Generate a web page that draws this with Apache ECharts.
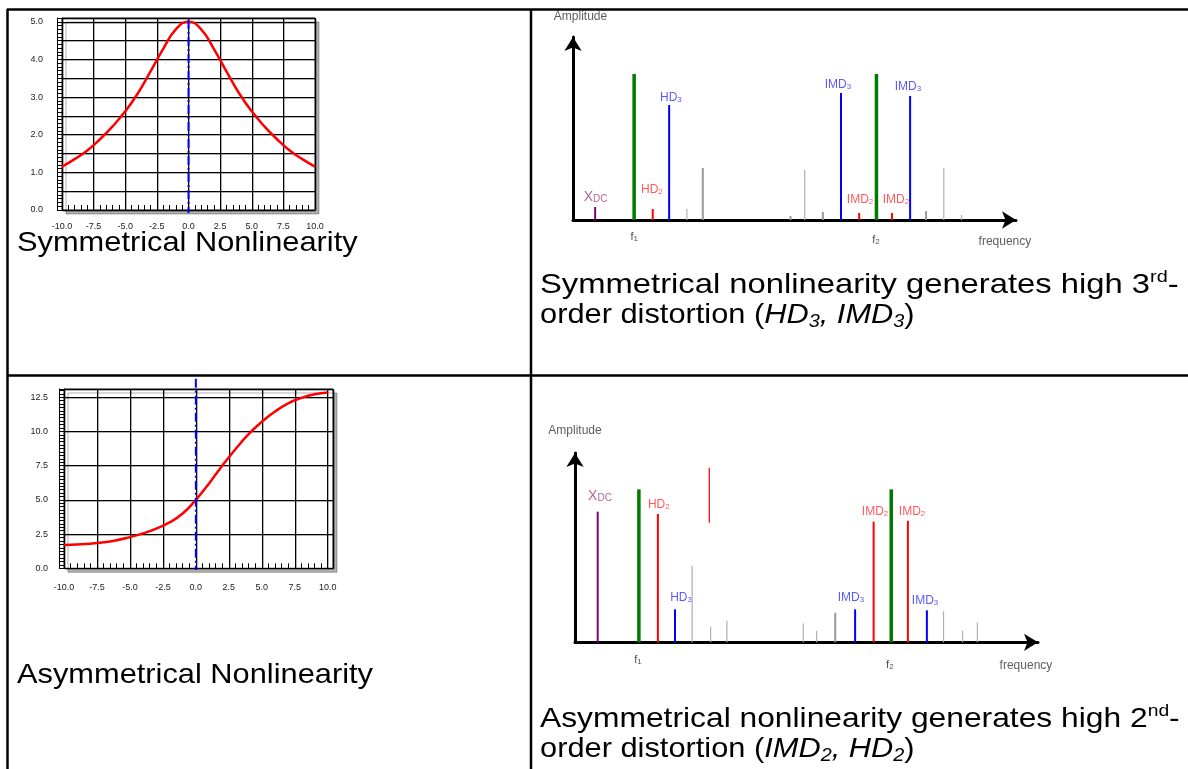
<!DOCTYPE html>
<html>
<head>
<meta charset="utf-8">
<script src="https://cdn.jsdelivr.net/npm/echarts@6/dist/echarts.min.js"></script>
<style>
  html, body { margin: 0; padding: 0; background: #fff; }
  #chart { width: 1188px; height: 769px; }
</style>
</head>
<body>
<div id="chart"></div>
<script>
// transfer curves
var xVals = [-10, -9, -8, -7, -6, -5, -4, -3, -2, -1, 0, 1, 2, 3, 4, 5, 6, 7, 8, 9, 10];
var symVals = [1.15, 1.35, 1.58, 1.88, 2.22, 2.62, 3.1, 3.68, 4.28, 4.8, 5.0, 4.8, 4.28, 3.68, 3.1, 2.62, 2.22, 1.88, 1.58, 1.35, 1.15];
var asymVals = [1.7, 1.74, 1.8, 1.9, 2.05, 2.28, 2.55, 2.9, 3.35, 4.0, 5.0, 6.2, 7.5, 8.7, 9.8, 10.7, 11.45, 12.05, 12.45, 12.72, 12.85];
// dashed x = 0 reference line, extent in data units
var symZeroSpan = [5.05, -0.08];
var asymZeroSpan = [13.84, -0.12];

// spectrum, symmetrical case (frequency 0..100, amplitude 0..100)
var topFreq = [5.0, 13.8, 18.0, 21.7, 25.7, 29.3, 49.1, 52.3, 56.4, 60.5, 64.6, 68.5, 72.0, 76.1, 79.7, 83.7, 87.7];
var topAmp  = [7.1, 79.8, 6.0, 62.8, 6.0, 28.4, 2.2, 27.3, 4.4, 69.4, 3.8, 79.8, 3.8, 67.8, 4.9, 28.4, 2.7];
var topKind = ['dc', 'fund', 'hd2', 'hd3', 'spurThin', 'spur', 'spur', 'spurThin', 'spur', 'hd3', 'hd2', 'fund', 'hd2', 'hd3', 'spur', 'spurThin', 'spurThin'];

// spectrum, asymmetrical case
var botFreq  = [4.9, 13.8, 17.9, 21.6, 25.3, 29.0, 29.3, 32.8, 49.3, 52.2, 56.2, 60.5, 64.5, 68.3, 71.9, 76.0, 79.6, 83.7, 86.9];
var botFloor = [0, 0, 0, 0, 0, 63.2, 0, 0, 0, 0, 0, 0, 0, 0, 0, 0, 0, 0, 0];
var botAmp   = [69, 80.8, 67.8, 17.4, 40.5, 92.2, 8.2, 11.4, 10, 6.1, 15.6, 17.4, 63.7, 80.8, 64.2, 16.9, 16.4, 6.1, 10.4];
var botKind  = ['dc', 'fund', 'hd2', 'hd3', 'spurThin', 'stray', 'spurThin', 'spurThin', 'spurThin', 'spurThin', 'spur', 'hd3', 'hd2', 'fund', 'hd2', 'hd3', 'spurThin', 'spurThin', 'spurThin'];

// annotations
var topLabelText = ['Amplitude', 'frequency', 'f{s|1}', 'f{s|2}', 'X{dc|DC}', 'HD{s|2}', 'HD{s|3}', 'IMD{s|3}', 'IMD{s|2}', 'IMD{s|2}', 'IMD{s|3}'];
var topLabelFreq = [1.7, 97.5, 13.8, 68.4, 5.1, 17.8, 22.1, 59.8, 64.8, 72.9, 75.6];
var topLabelAmp  = [110.9, -12.0, -9.3, -10.9, 12.6, 16.4, 66.7, 73.8, 10.9, 10.9, 72.7];
var topLabelKind = ['axis', 'axis', 'f', 'f', 'dc', 'hd2', 'hd3', 'hd3', 'hd2', 'hd2', 'hd3'];

var botLabelText = ['Amplitude', 'frequency', 'f{s|1}', 'f{s|2}', 'X{dc|DC}', 'HD{s|2}', 'HD{s|3}', 'IMD{s|3}', 'IMD{s|2}', 'IMD{s|2}', 'IMD{s|3}'];
var botLabelFreq = [0, 97.4, 13.6, 68.0, 5.4, 18.1, 22.9, 59.6, 64.8, 72.8, 75.6];
var botLabelAmp  = [111.8, -12.5, -9.3, -11.9, 77.3, 72.5, 23.4, 23.4, 68.8, 68.8, 21.8];
var botLabelKind = ['axis', 'axis', 'f', 'f', 'dc', 'hd2', 'hd3', 'hd3', 'hd2', 'hd2', 'hd3'];

var FONT = "'Liberation Sans', Arial, sans-serif";

var spikeStyle = {
  dc: { color: '#800080', width: 2 },
  fund: { color: '#007a00', width: 3.5 },
  hd2: { color: '#ff0000', width: 2 },
  hd3: { color: '#0000ff', width: 2 },
  spur: { color: '#999999', width: 2 },
  spurThin: { color: '#b0b0b0', width: 1.2 },
  stray: { color: '#e00000', width: 1.2 }
};
var labelStyle = {
  axis: { color: '#333', size: 12 },
  f: { color: '#222', size: 11 },
  dc: { color: '#a03c78', size: 14 },
  hd2: { color: '#ff3030', size: 12 },
  hd3: { color: '#3030ff', size: 12 }
};

var chart = echarts.init(document.getElementById('chart'));

function spikeSeries(idx, freq, floor, amp, kind) {
  return {
    type: 'custom', xAxisIndex: idx, yAxisIndex: idx, clip: false, silent: true, z: 5,
    data: freq.map(function (f, i) { return [f, floor ? floor[i] : 0, amp[i]]; }),
    renderItem: function (params, api) {
      var st = spikeStyle[kind[params.dataIndex]];
      var p0 = api.coord([api.value(0), api.value(1)]);
      var p1 = api.coord([api.value(0), api.value(2)]);
      return {
        type: 'line',
        shape: { x1: p0[0], y1: p0[1], x2: p1[0], y2: p1[1] },
        style: { stroke: st.color, lineWidth: st.width }
      };
    }
  };
}

function labelSeries(idx, freq, amp, text, kind) {
  return {
    type: 'scatter', xAxisIndex: idx, yAxisIndex: idx, clip: false, silent: true,
    symbolSize: 1, itemStyle: { color: 'transparent' },
    data: freq.map(function (f, i) {
      var st = labelStyle[kind[i]];
      return { value: [f, amp[i]], label: { color: st.color, fontSize: st.size } };
    }),
    label: {
      show: true, position: 'inside', fontFamily: FONT,
      formatter: function (p) { return text[p.dataIndex]; },
      rich: {
        s: { fontSize: 8, fontFamily: FONT, verticalAlign: 'bottom' },
        dc: { fontSize: 10, fontFamily: FONT, verticalAlign: 'bottom' }
      }
    }
  };
}

function curveSeries(idx, vals) {
  return {
    type: 'line', xAxisIndex: idx, yAxisIndex: idx, smooth: true, symbol: 'none', clip: false, z: 3,
    data: xVals.map(function (x, i) { return [x, vals[i]]; }),
    lineStyle: { color: '#ff0000', width: 2.5 }
  };
}
function zeroSeries(idx, span) {
  return {
    type: 'line', xAxisIndex: idx, yAxisIndex: idx, symbol: 'none', clip: false, silent: true, z: 4,
    data: [[0, span[0]], [0, span[1]]],
    lineStyle: { color: '#0000ff', width: 2, type: [9, 3, 2, 3] }
  };
}

function isStep(v, step, lo, hi) {
  var k = v / step;
  return Math.abs(k - Math.round(k)) < 1e-6 && v >= lo - 1e-6 && v <= hi + 1e-6;
}

var gridLine = { color: '#000', width: 1, shadowColor: 'rgba(0,0,0,0.3)', shadowOffsetX: 1, shadowOffsetY: 1 };
var frame = {
  show: true, borderColor: '#000', borderWidth: 1, backgroundColor: '#fff',
  shadowColor: 'rgba(0,0,0,0.3)', shadowOffsetX: 4, shadowOffsetY: 4, shadowBlur: 0
};

function mainX(grid, max, margin) {
  return {
    gridIndex: grid, type: 'value', position: 'bottom', min: -10, max: max, interval: 2.5,
    axisLine: { show: true, onZero: false, lineStyle: { color: '#000', width: 1 } },
    axisTick: { show: false },
    axisLabel: {
      color: '#222', fontSize: 9, margin: margin, fontFamily: FONT,
      formatter: function (v) { return isStep(v, 2.5, -10, 10) ? v.toFixed(1) : ''; }
    },
    splitLine: { show: true, lineStyle: gridLine }
  };
}
function tickX(grid, max) {
  return {
    gridIndex: grid, type: 'value', position: 'bottom', min: -10, max: max, interval: 0.5,
    axisLine: { show: false, onZero: false },
    axisTick: { show: true, inside: true, length: 5, lineStyle: { color: '#000' } },
    axisLabel: { show: false }, splitLine: { show: false }
  };
}
function mainY(grid, max, interval, step, top, margin) {
  return {
    gridIndex: grid, type: 'value', position: 'left', min: 0, max: max, interval: interval,
    axisLine: { show: true, onZero: false, lineStyle: { color: '#000', width: 1 } },
    axisTick: { show: false },
    axisLabel: {
      color: '#222', fontSize: 9, margin: margin, fontFamily: FONT,
      formatter: function (v) { return isStep(v, step, 0, top) ? v.toFixed(1) : ''; }
    },
    splitLine: { show: true, lineStyle: gridLine }
  };
}
function ladderY(grid, max, interval) {
  return {
    gridIndex: grid, type: 'value', position: 'left', offset: 5, min: 0, max: max, interval: interval,
    axisLine: { show: true, onZero: false, lineStyle: { color: '#000', width: 1 } },
    axisTick: { show: true, inside: true, length: 5, lineStyle: { color: '#000' } },
    axisLabel: { show: false }, splitLine: { show: false }
  };
}
function arrowAxis(grid) {
  return {
    gridIndex: grid, type: 'value', min: 0, max: 100,
    axisLine: { show: true, onZero: false, symbol: ['none', 'arrow'], symbolSize: [13, 14], lineStyle: { color: '#000', width: 3 } },
    axisTick: { show: false }, axisLabel: { show: false }, splitLine: { show: false }
  };
}

// line 1 of the right-hand captions is justified to the cell width in the original
function bigText(x, y, text, stretch) {
  return {
    type: 'text', x: x, y: y, scaleX: stretch, silent: true,
    style: {
      text: text, fontSize: 28, fontFamily: FONT, fill: '#000', verticalAlign: 'middle', lineHeight: 32,
      rich: {
        sup: { fontSize: 17, fontFamily: FONT, verticalAlign: 'top', lineHeight: 32 },
        i: { fontSize: 28, fontFamily: FONT, fontStyle: 'italic', lineHeight: 32 },
        is: { fontSize: 18, fontFamily: FONT, fontStyle: 'italic', verticalAlign: 'bottom', lineHeight: 22 }
      }
    }
  };
}
function rule(x1, y1, x2, y2) {
  return { type: 'line', silent: true, shape: { x1: x1, y1: y1, x2: x2, y2: y2 }, style: { stroke: '#000', lineWidth: 2.5 } };
}

chart.setOption({
  animation: false,
  textStyle: { fontFamily: FONT },
  grid: [
    Object.assign({ left: 62, top: 18, width: 253, height: 192 }, frame),
    Object.assign({ left: 64, top: 389, width: 269, height: 179.3 }, frame),
    { left: 573, top: 37, width: 443, height: 183 },
    { left: 575, top: 453, width: 463, height: 189.3 }
  ],
  xAxis: [
    mainX(0, 10, 12), tickX(0, 10),
    mainX(1, 10.4, 15), tickX(1, 10.4),
    arrowAxis(2), arrowAxis(3)
  ],
  yAxis: [
    mainY(0, 5.1, 0.5, 1, 5, 19), ladderY(0, 5.1, 0.1),
    mainY(1, 13.1, 2.5, 2.5, 12.5, 16), ladderY(1, 13.1, 0.25),
    arrowAxis(2), arrowAxis(3)
  ],
  series: [
    curveSeries(0, symVals),
    zeroSeries(0, symZeroSpan),
    curveSeries(2, asymVals),
    zeroSeries(2, asymZeroSpan),
    spikeSeries(4, topFreq, null, topAmp, topKind),
    spikeSeries(5, botFreq, botFloor, botAmp, botKind),
    labelSeries(4, topLabelFreq, topLabelAmp, topLabelText, topLabelKind),
    labelSeries(5, botLabelFreq, botLabelAmp, botLabelText, botLabelKind)
  ],
  graphic: [
    rule(7, 9.5, 1188, 9.5),
    rule(7.5, 9, 7.5, 769),
    rule(531, 9, 531, 769),
    rule(7, 375.5, 1188, 375.5),
    bigText(17, 243, 'Symmetrical Nonlinearity', 1.1),
    bigText(17, 675, 'Asymmetrical Nonlinearity', 1.1),
    bigText(540, 285, 'Symmetrical nonlinearity generates high 3{sup|rd}-', 1.17),
    bigText(540, 315, 'order distortion ({i|HD}{is|3}{i|, IMD}{is|3})', 1.1),
    bigText(540, 719, 'Asymmetrical nonlinearity generates high 2{sup|nd}-', 1.135),
    bigText(540, 749, 'order distortion ({i|IMD}{is|2}{i|, HD}{is|2})', 1.1)
  ]
});
</script>
</body>
</html>
